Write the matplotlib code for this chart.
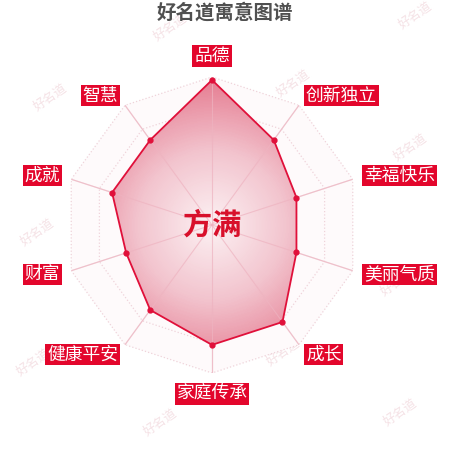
import numpy as np
import matplotlib.pyplot as plt
from matplotlib.colors import LinearSegmentedColormap

plt.rcParams['font.family'] = ['Noto Sans CJK SC', 'DejaVu Sans']

# data
indicators = ['品德', '创新独立', '幸福快乐', '美丽气质', '成长',
              '家庭传承', '健康平安', '财富', '成就', '智慧']
scores = [98, 71, 60, 60, 81, 81, 71, 61, 71, 71]
max_score = 100
ring_levels = [20, 40, 60, 80, 100]
name = '方满'
title = '好名道寓意图谱'
watermark = '好名道'

fig = plt.figure(figsize=(4.5, 4.5), dpi=100)

# faint watermarks, behind everything
wm_pos = [(170, 27), (415, 15), (293, 83), (410, 147), (50, 97),
          (37, 232), (33, 362), (160, 422), (283, 352), (400, 412), (397, 282)]
for x, y in wm_pos:
    fig.text(x / 450, 1 - y / 450, watermark, rotation=35, ha='center', va='center',
             fontsize=9, color='#f5e2e6', zorder=0)

# centre of the radar at about (212, 225) px, radius ~148 px
ax = fig.add_axes([64 / 450, 77 / 450, 296 / 450, 296 / 450], projection='polar')
ax.set_zorder(1)
ax.set_theta_offset(np.pi / 2)
ax.set_theta_direction(-1)
ax.set_ylim(0, max_score)
ax.axis('off')

n = len(indicators)
angles = np.linspace(0, 2 * np.pi, n, endpoint=False)
ang_closed = np.append(angles, angles[0])
sc_closed = np.append(scores, scores[0])

# very faint background of the whole radar
ax.fill(ang_closed, [max_score] * (n + 1), color='#fefafb', zorder=0, lw=0)

# grid rings (dotted) and spokes
for lv in ring_levels:
    ax.plot(ang_closed, [lv] * (n + 1), ls=':', color='#efd3da', lw=0.9, zorder=1)
for a in angles:
    ax.plot([a, a], [0, max_score], color='#f3dde2', lw=0.9, zorder=1)

# polygon with a radial gradient fill
poly = ax.fill(ang_closed, sc_closed, color='none', lw=0, zorder=2)[0]
cmap = LinearSegmentedColormap.from_list('pinkgrad', ['#fcf1f3', '#f2c4ce', '#e57a8f'])
th = np.linspace(0, 2 * np.pi, 181)
rr = np.linspace(0, max_score, 101)
C = np.tile(((rr[:-1] + rr[1:]) / 2)[:, None], (1, len(th) - 1))
mesh = ax.pcolormesh(th, rr, C, cmap=cmap, vmin=0, vmax=max_score,
                     shading='flat', zorder=2, antialiased=False, rasterized=True)
mesh.set_clip_path(poly)

# spokes again, softly over the fill
for a in angles:
    ax.plot([a, a], [0, max_score], color='#eeb3c0', lw=0.8, alpha=0.7, zorder=3)

ax.plot(ang_closed, sc_closed, color='#e0103a', lw=1.3, zorder=4)
ax.plot(angles, scores, 'o', color='#e0103a', ms=3.5, zorder=5)

# indicator labels in red boxes
label_r = 108
for a, lab in zip(angles, indicators):
    s = np.sin(a)
    c = np.cos(a)
    if abs(s) < 0.01:
        ha = 'center'
        va = 'bottom' if c > 0 else 'top'
    else:
        ha = 'left' if s > 0 else 'right'
        va = 'center'
    ax.text(a, label_r, lab, ha=ha, va=va, fontsize=12.8, color='white',
            bbox=dict(boxstyle='square,pad=0.1', fc='#e3062c', ec='none'),
            zorder=6, clip_on=False)

ax.text(0, 0, name, ha='center', va='center', fontsize=21, fontweight='bold',
        color='#d8102b', zorder=7)

fig.text(0.5, 1 - 13 / 450, title, ha='center', va='center', fontsize=14,
         fontweight='bold', color='#505050')

fig.savefig('out.png', dpi=100)
